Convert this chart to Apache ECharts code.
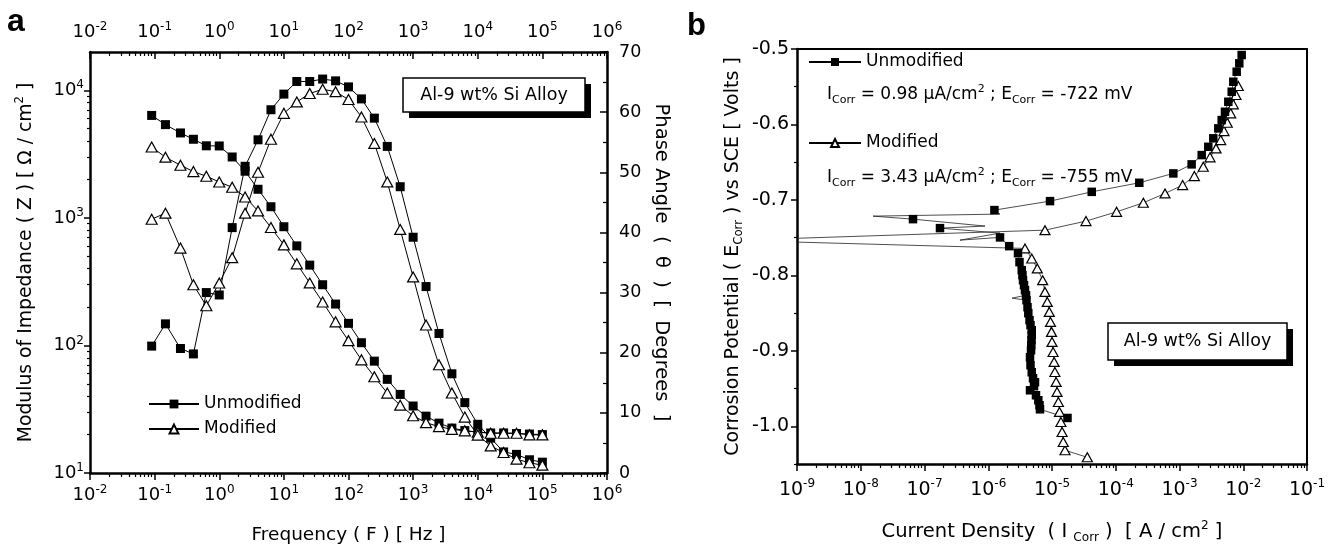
<!DOCTYPE html>
<html><head><meta charset="utf-8">
<script src="https://cdn.jsdelivr.net/npm/echarts@6/dist/echarts.min.js"></script>
<style>html,body{margin:0;padding:0;background:#fff}#c{width:1336px;height:549px}</style>
</head><body><div id="c"></div>
<script>
// ---------- Panel a: EIS (Bode) data ----------
const freqHz = [0.09, 0.147, 0.251, 0.398, 0.631, 1, 1.585, 2.512, 3.981, 6.31, 10, 15.85, 25.12, 39.81, 63.1, 100, 158.5, 251.2, 398.1, 631, 1000, 1585, 2512, 3981, 6310, 10000, 15850, 25120, 39810, 63100, 100000];
const unmodModulus = [6350, 5380, 4630, 4130, 3670, 3660, 3000, 2320, 1675, 1222, 852, 603, 426, 299, 211, 149, 105, 75.3, 54.2, 41.3, 33.5, 27.9, 24.6, 22.5, 21.5, 20.9, 20.6, 20.6, 20.4, 20.2, 20.0];
const modModulus = [3590, 2990, 2585, 2305, 2120, 1910, 1737, 1458, 1133, 840, 614, 436, 309, 219, 153, 109, 77.1, 56.8, 42.3, 34.0, 28.1, 24.8, 23.1, 22.0, 21.4, 20.9, 20.5, 20.5, 20.5, 19.9, 19.9];
const unmodPhase = [21.1, 24.8, 20.7, 19.8, 30.0, 29.6, 40.8, 51.0, 55.4, 60.4, 63.0, 65.1, 65.1, 65.5, 65.2, 64.2, 62.2, 59.0, 54.3, 47.6, 39.2, 31.0, 23.2, 16.5, 11.7, 8.1, 5.8, 3.5, 3.1, 2.2, 1.8];
const modPhase = [42.2, 43.2, 37.4, 31.3, 27.8, 31.6, 35.8, 43.2, 50.0, 55.5, 59.8, 61.7, 63.1, 63.8, 63.4, 62.1, 59.2, 54.8, 48.4, 40.5, 32.6, 24.6, 18.0, 13.3, 9.3, 6.3, 4.5, 3.4, 2.3, 1.7, 1.3];

// ---------- Panel b: potentiodynamic polarization data (scan order) ----------
const unmodCurrent = [1.75e-5, 6.48e-6, 6.37e-6, 6.10e-6, 5.61e-6, 4.52e-6, 5.22e-6, 5.41e-6, 5.04e-6, 4.81e-6, 4.60e-6, 4.52e-6, 4.69e-6, 4.73e-6, 4.77e-6, 4.81e-6, 4.81e-6, 4.60e-6, 4.44e-6, 4.25e-6, 4.13e-6, 3.98e-6, 2.36e-6, 3.91e-6, 3.77e-6, 3.64e-6, 3.51e-6, 3.44e-6, 3.35e-6, 3.09e-6, 2.93e-6, 2.13e-6, 1.53e-6, 3.6e-7, 1.53e-6, 1.75e-7, 8.9e-7, 6.6e-8, 1.56e-8, 1.53e-6, 1.25e-6, 9.31e-6, 4.20e-5, 2.34e-4, 8.0e-4, 1.55e-3, 2.23e-3, 2.83e-3, 3.39e-3, 4.06e-3, 4.59e-3, 5.17e-3, 5.83e-3, 6.59e-3, 6.98e-3, 7.89e-3, 8.67e-3, 9.45e-3];
const unmodPotential = [-0.989, -0.9775, -0.9721, -0.9655, -0.9589, -0.9523, -0.9469, -0.9416, -0.9363, -0.9284, -0.9191, -0.9085, -0.8992, -0.8926, -0.8859, -0.8793, -0.8727, -0.866, -0.8594, -0.8501, -0.8422, -0.8329, -0.8302, -0.8263, -0.8196, -0.813, -0.8064, -0.7997, -0.7931, -0.7825, -0.7706, -0.7613, -0.7497, -0.7533, -0.744, -0.7374, -0.7347, -0.7255, -0.7215, -0.7188, -0.7135, -0.7016, -0.6893, -0.6773, -0.6649, -0.6529, -0.6406, -0.6296, -0.6184, -0.6052, -0.5942, -0.5832, -0.5699, -0.5566, -0.5434, -0.5301, -0.519, -0.508];
const unmodMarked = [1, 1, 1, 1, 1, 1, 1, 1, 1, 1, 1, 1, 1, 1, 1, 1, 1, 1, 1, 1, 1, 1, 0, 1, 1, 1, 1, 1, 1, 1, 1, 1, 1, 0, 0, 1, 0, 1, 0, 0, 1, 1, 1, 1, 1, 1, 1, 1, 1, 1, 1, 1, 1, 1, 1, 1, 1, 1];
const modCurrent = [3.58e-5, 1.60e-5, 1.50e-5, 1.44e-5, 1.38e-5, 1.31e-5, 1.26e-5, 1.20e-5, 1.16e-5, 1.11e-5, 1.08e-5, 1.04e-5, 1.00e-5, 9.82e-6, 9.47e-6, 9.07e-6, 8.43e-6, 7.76e-6, 7.14e-6, 5.88e-6, 4.81e-6, 3.77e-6, 1e-10, 7.76e-6, 3.41e-5, 1.03e-4, 2.71e-4, 5.93e-4, 1.12e-3, 1.71e-3, 2.36e-3, 3.01e-3, 3.74e-3, 4.43e-3, 4.99e-3, 5.62e-3, 6.35e-3, 6.98e-3, 7.69e-3, 8.36e-3];
const modPotential = [-1.0411, -1.0318, -1.0208, -1.0076, -0.9943, -0.981, -0.9678, -0.9545, -0.9412, -0.928, -0.9147, -0.9015, -0.8882, -0.8749, -0.8617, -0.8484, -0.8352, -0.8219, -0.8064, -0.7908, -0.7776, -0.7643, -0.7536, -0.7401, -0.7281, -0.7158, -0.7038, -0.6914, -0.6804, -0.6684, -0.6561, -0.6436, -0.6317, -0.6207, -0.6088, -0.5977, -0.5853, -0.5733, -0.561, -0.5491];
const modMarked = [1, 1, 1, 1, 1, 1, 1, 1, 1, 1, 1, 1, 1, 1, 1, 1, 1, 1, 1, 1, 1, 1, 0, 1, 1, 1, 1, 1, 1, 1, 1, 1, 1, 1, 1, 1, 1, 1, 1, 1];

// ---------- tick labels ----------
const freqTickExp = [-2, -1, 0, 1, 2, 3, 4, 5, 6];
const modulusTickExp = [1, 2, 3, 4];
const phaseTicks = [0, 10, 20, 30, 40, 50, 60, 70];
const phaseMinorTicks = [5, 15, 25, 35, 45, 55, 65];
const currentTickExp = [-9, -8, -7, -6, -5, -4, -3, -2, -1];
const potentialTicks = [-1.0, -0.9, -0.8, -0.7, -0.6, -0.5];
const potentialMinorTicks = [-1.05, -0.95, -0.85, -0.75, -0.65, -0.55];

const FONT = 'DejaVu Sans';
const K = '#000';
const lg = Math.log10;
function minorLog(lo, hi) {
  const out = [];
  for (let n = lo; n < hi; n++) for (let m = 2; m <= 9; m++) { const v = n + lg(m); if (v < hi - 1e-6) out.push(v); }
  return out;
}
function powLabel(size, sup, lh) {
  return {
    color: K, fontFamily: FONT, fontSize: size,
    formatter: v => '{b|10}{sup|' + Math.round(v) + '}',
    rich: {
      b: { fontFamily: FONT, fontSize: size, lineHeight: lh, color: K },
      sup: { fontFamily: FONT, fontSize: sup, lineHeight: 10, verticalAlign: 'top', color: K }
    }
  };
}
const nameRich = (size) => ({
  fontFamily: FONT, fontSize: size, color: K, lineHeight: 24,
  rich: {
    sup: { fontFamily: FONT, fontSize: size * 0.62, lineHeight: 10, verticalAlign: 'top', color: K },
    sub: { fontFamily: FONT, fontSize: size * 0.62, lineHeight: 10, verticalAlign: 'bottom', color: K }
  }
});
const noSplit = { show: false };
function minorAxis(grid, pos, min, max, vals, len, inside) {
  return { gridIndex: grid, type: 'value', position: pos, min, max,
    axisLine: { show: false, onZero: false }, axisLabel: { show: false }, splitLine: noSplit,
    axisTick: { show: true, inside: !!inside, length: len, lineStyle: { color: K, width: 1.2 }, customValues: vals } };
}
const lineOnlyAxis = (grid, pos, min, max, w) => ({ gridIndex: grid, type: 'value', position: pos, min, max,
  axisLine: { show: true, onZero: false, lineStyle: { color: K, width: w } }, axisTick: { show: false }, axisLabel: { show: false }, splitLine: noSplit });

const xAxis = [
  { gridIndex: 0, type: 'value', position: 'bottom', min: -2, max: 6,
    axisLine: { show: true, onZero: false, lineStyle: { color: K, width: 2.5 } },
    axisTick: { show: true, length: 7, lineStyle: { color: K, width: 1.5 }, customValues: freqTickExp },
    axisLabel: Object.assign(powLabel(18, 12, 22), { margin: 11, customValues: freqTickExp }),
    splitLine: noSplit,
    name: 'Frequency ( F ) [ Hz ]', nameLocation: 'middle', nameGap: 50, nameTextStyle: nameRich(18.5) },
  minorAxis(0, 'bottom', -2, 6, minorLog(-2, 6), 4, false),
  { gridIndex: 0, type: 'value', position: 'top', min: -2, max: 6,
    axisLine: { show: true, onZero: false, lineStyle: { color: K, width: 2.5 } },
    axisTick: { show: true, inside: true, length: 7, lineStyle: { color: K, width: 1.5 }, customValues: freqTickExp },
    axisLabel: Object.assign(powLabel(18, 12, 22), { margin: 9, customValues: freqTickExp }),
    splitLine: noSplit },
  minorAxis(0, 'top', -2, 6, minorLog(-2, 6), 4, true),
  { gridIndex: 1, type: 'value', position: 'bottom', min: -9, max: -1,
    axisLine: { show: true, onZero: false, lineStyle: { color: K, width: 2.5 } },
    axisTick: { show: true, length: 7, lineStyle: { color: K, width: 1.5 }, customValues: currentTickExp },
    axisLabel: Object.assign(powLabel(19, 12, 24), { margin: 14, customValues: currentTickExp }),
    splitLine: noSplit,
    name: 'Current Density  ( I {sub|Corr} )  [ A / cm{sup|2} ]', nameLocation: 'middle', nameGap: 56, nameTextStyle: nameRich(19.5) },
  minorAxis(1, 'bottom', -9, -1, minorLog(-9, -1), 4, false),
  lineOnlyAxis(1, 'top', -9, -1, 2)
];

const yAxis = [
  { gridIndex: 0, type: 'value', position: 'left', min: 1, max: 4.3,
    axisLine: { show: true, onZero: false, lineStyle: { color: K, width: 2.5 } },
    axisTick: { show: true, length: 6, lineStyle: { color: K, width: 1.5 }, customValues: modulusTickExp },
    axisLabel: Object.assign(powLabel(18, 12, 22), { margin: 6, customValues: modulusTickExp }),
    splitLine: noSplit,
    name: 'Modulus of Impedance ( Z ) [ Ω / cm{sup|2} ]', nameLocation: 'middle', nameGap: 52, nameTextStyle: nameRich(18.8) },
  minorAxis(0, 'left', 1, 4.3, minorLog(1, 5).filter(v => v < 4.3), 3, false),
  { gridIndex: 0, type: 'value', position: 'right', min: 0, max: 70,
    axisLine: { show: true, onZero: false, lineStyle: { color: K, width: 2.5 } },
    axisTick: { show: true, inside: true, length: 7, lineStyle: { color: K, width: 1.5 }, customValues: phaseTicks },
    axisLabel: { color: K, fontFamily: FONT, fontSize: 17.5, margin: 12, customValues: phaseTicks },
    splitLine: noSplit,
    name: 'Phase Angle  (  θ  )  [  Degrees  ]', nameLocation: 'middle', nameRotate: -90, nameGap: 42, nameTextStyle: nameRich(19.5) },
  minorAxis(0, 'right', 0, 70, phaseMinorTicks, 4, true),
  { gridIndex: 1, type: 'value', position: 'left', min: -1.05, max: -0.5,
    axisLine: { show: true, onZero: false, lineStyle: { color: K, width: 2.5 } },
    axisTick: { show: true, length: 6, lineStyle: { color: K, width: 1.5 }, customValues: potentialTicks },
    axisLabel: { color: K, fontFamily: FONT, fontSize: 19, margin: 8, customValues: potentialTicks, formatter: v => v.toFixed(1) },
    splitLine: noSplit,
    name: 'Corrosion Potential ( E{sub|Corr} ) vs SCE [ Volts ]', nameLocation: 'middle', nameGap: 52, nameTextStyle: nameRich(19) },
  minorAxis(1, 'left', -1.05, -0.5, potentialMinorTicks, 3, false),
  lineOnlyAxis(1, 'right', -1.05, -0.5, 2)
];

const sqStyle = { symbol: 'rect', itemStyle: { color: K }, lineStyle: { color: K, width: 1 } };
const triStyle = { symbol: 'triangle', itemStyle: { color: '#fff', borderColor: K, borderWidth: 1.2 }, lineStyle: { color: K, width: 1 } };
const base = { type: 'line', animation: false, clip: true, emphasis: { disabled: true } };
function bodeData(vals, isLog) { return freqHz.map((f, i) => [lg(f), isLog ? lg(vals[i]) : vals[i]]); }
function polData(cur, pot, mark) {
  return cur.map((c, i) => mark[i] ? [lg(c), pot[i]] : { value: [lg(c), pot[i]], symbol: 'none' });
}

const series = [
  Object.assign({}, base, sqStyle, { name: 'Unmodified', xAxisIndex: 0, yAxisIndex: 0, symbolSize: 9, data: bodeData(unmodModulus, true) }),
  Object.assign({}, base, sqStyle, { name: 'Unmodified', xAxisIndex: 0, yAxisIndex: 2, symbolSize: 9, data: bodeData(unmodPhase, false) }),
  Object.assign({}, base, triStyle, { name: 'Modified', xAxisIndex: 0, yAxisIndex: 0, symbolSize: [11, 10], data: bodeData(modModulus, true) }),
  Object.assign({}, base, triStyle, { name: 'Modified', xAxisIndex: 0, yAxisIndex: 2, symbolSize: [11, 10], data: bodeData(modPhase, false) }),
  Object.assign({}, base, triStyle, { name: 'Modified', xAxisIndex: 4, yAxisIndex: 4, symbolSize: [10, 9], lineStyle: { color: '#222', width: 0.8 }, data: polData(modCurrent, modPotential, modMarked) }),
  Object.assign({}, base, sqStyle, { name: 'Unmodified', xAxisIndex: 4, yAxisIndex: 4, symbolSize: 8.5, lineStyle: { color: '#222', width: 0.8 }, data: polData(unmodCurrent, unmodPotential, unmodMarked) })
];

const legTxt = { fontFamily: FONT, fontSize: 17, lineHeight: 20, color: K };
const legend = [
  { data: ['Unmodified', 'Modified'], left: 148, top: 394, padding: 0, orient: 'vertical', itemWidth: 50, itemHeight: 11, itemGap: 5, textStyle: legTxt, selectedMode: false },
  { data: ['Unmodified'], left: 808, top: 52, padding: 0, itemWidth: 52, itemHeight: 10, textStyle: legTxt, selectedMode: false },
  { data: ['Modified'], left: 808, top: 133, padding: 0, itemWidth: 52, itemHeight: 10, textStyle: legTxt, selectedMode: false }
];

const annRich = {
  sub: { fontFamily: FONT, fontSize: 11, lineHeight: 10, verticalAlign: 'bottom', fill: K },
  sup: { fontFamily: FONT, fontSize: 11, lineHeight: 10, verticalAlign: 'top', fill: K },
  t: { fontFamily: FONT, fontSize: 17, lineHeight: 22, fill: K }
};
function box(x, y, w, h) {
  return [
    { type: 'rect', shape: { x: x + 6, y: y + 6, width: w, height: h }, style: { fill: K } },
    { type: 'rect', shape: { x: x, y: y, width: w, height: h }, style: { fill: '#fff', stroke: K, lineWidth: 1.5 } },
    { type: 'text', x: x + w / 2, y: y + h / 2, style: { text: 'Al-9 wt% Si Alloy', fontFamily: FONT, fontSize: 17.5, fill: K, align: 'center', verticalAlign: 'middle' } }
  ];
}
const graphic = [
  { type: 'text', x: 7, y: 22, style: { text: 'a', fontFamily: 'Liberation Sans', fontWeight: 'bold', fontSize: 32, fill: K, verticalAlign: 'middle' } },
  { type: 'text', x: 687, y: 26, style: { text: 'b', fontFamily: 'Liberation Sans', fontWeight: 'bold', fontSize: 31, fill: K, verticalAlign: 'middle' } },
  ...box(403, 78, 182, 34),
  ...box(1108, 323, 179, 37),
  { type: 'text', x: 827, y: 95, style: { text: '{t|I}{sub|Corr}{t| = 0.98 μA/cm}{sup|2}{t| ; E}{sub|Corr}{t| = -722 mV}', rich: annRich, verticalAlign: 'middle' } },
  { type: 'text', x: 827, y: 178, style: { text: '{t|I}{sub|Corr}{t| = 3.43 μA/cm}{sup|2}{t| ; E}{sub|Corr}{t| = -755 mV}', rich: annRich, verticalAlign: 'middle' } }
];

const chart = echarts.init(document.getElementById('c'), null, { renderer: 'canvas' });
chart.setOption({
  animation: false,
  backgroundColor: '#fff',
  grid: [
    { left: 90, top: 52, width: 517, height: 421, outerBoundsMode: 'none', containLabel: false },
    { left: 797, top: 49, width: 510, height: 415, outerBoundsMode: 'none', containLabel: false }
  ],
  xAxis, yAxis, series, legend, graphic
});
</script></body></html>
